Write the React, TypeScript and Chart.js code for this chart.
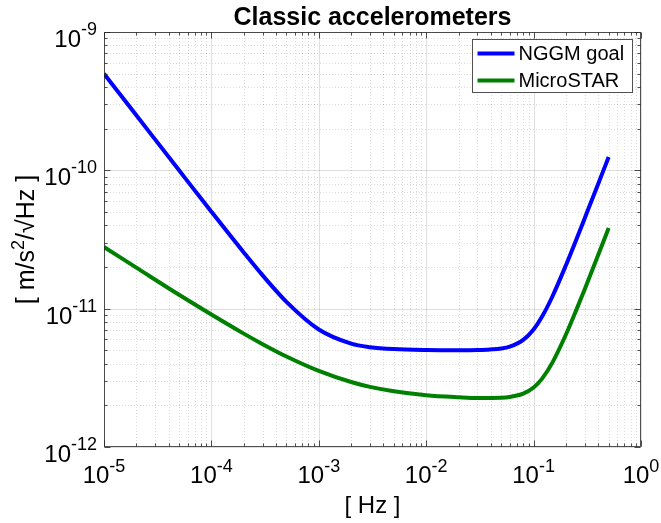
import React, { useEffect, useRef } from 'react';
import { Chart, registerables } from 'chart.js';

Chart.register(...registerables);

// ---- data ----
const frequencies = [
  1e-5, 2e-5, 5e-5, 1e-4, 2e-4, 3e-4, 5e-4, 1e-3, 2e-3, 3e-3, 5e-3, 1e-2, 2e-2, 3e-2, 5e-2,
  0.06, 0.08, 0.1, 0.12, 0.15, 0.2, 0.25, 0.3, 0.4, 0.5,
];
const nggmGoal = [
  5.0e-10, 2.5e-10, 1.0e-10, 5.02e-11, 2.55e-11, 1.74e-11, 1.12e-11, 7.07e-12, 5.59e-12, 5.27e-12,
  5.1e-12, 5.02e-12, 5.0e-12, 5.02e-12, 5.15e-12, 5.31e-12, 5.94e-12, 7.07e-12, 8.77e-12, 1.23e-11,
  2.06e-11, 3.16e-11, 4.53e-11, 8.0e-11, 1.25e-10,
];
const microStar = [
  2.79e-11, 1.98e-11, 1.26e-11, 9.07e-12, 6.6e-12, 5.54e-12, 4.51e-12, 3.55e-12, 2.95e-12, 2.72e-12,
  2.53e-12, 2.37e-12, 2.29e-12, 2.26e-12, 2.27e-12, 2.3e-12, 2.43e-12, 2.69e-12, 3.12e-12, 4.09e-12,
  6.5e-12, 9.8e-12, 1.39e-11, 2.45e-11, 3.83e-11,
];
const seriesNames = ['NGGM goal', 'MicroSTAR'];
const seriesColors = ['#0000ff', '#008000'];
const xTickExponents = [-5, -4, -3, -2, -1, 0];
const yTickExponents = [-12, -11, -10, -9];
const titleText = 'Classic accelerometers';
const xLabelText = '[ Hz ]';

const FONT = '"Liberation Sans", Arial, Helvetica, sans-serif';
const TEXT_COLOR = '#000000';
const AXIS_COLOR = 'rgba(38,38,38,0.8)';

function drawPower(
  ctx: CanvasRenderingContext2D,
  exp: number,
  anchorX: number,
  baseline: number,
  align: 'center' | 'right',
  raise: number
) {
  const baseFont = `24px ${FONT}`;
  const supFont = `18px ${FONT}`;
  ctx.font = baseFont;
  const w10 = ctx.measureText('10').width;
  ctx.font = supFont;
  const supText = String(exp);
  const wSup = ctx.measureText(supText).width;
  const total = w10 + wSup;
  const start = align === 'center' ? anchorX - total / 2 : anchorX - total;
  ctx.textAlign = 'left';
  ctx.textBaseline = 'alphabetic';
  ctx.fillStyle = TEXT_COLOR;
  ctx.font = baseFont;
  ctx.fillText('10', start, baseline);
  ctx.font = supFont;
  ctx.fillText(supText, start + w10, baseline - raise);
}

const matlabPlugin = {
  id: 'matlabLook',
  beforeDatasetsDraw(chart: any) {
    const { ctx, chartArea: a, scales } = chart;
    const x = scales.x;
    const y = scales.y;
    ctx.save();
    ctx.fillStyle = '#ffffff';
    ctx.fillRect(a.left, a.top, a.right - a.left, a.bottom - a.top);
    // minor grid (dotted)
    ctx.lineWidth = 1;
    ctx.strokeStyle = 'rgba(38,38,38,0.16)';
    ctx.setLineDash([1, 2]);
    for (let e = xTickExponents[0]; e < xTickExponents[xTickExponents.length - 1]; e++) {
      for (let k = 2; k <= 9; k++) {
        const px = Math.round(x.getPixelForValue(k * Math.pow(10, e))) + 0.5;
        ctx.beginPath();
        ctx.moveTo(px, a.top);
        ctx.lineTo(px, a.bottom);
        ctx.stroke();
      }
    }
    for (let e = yTickExponents[0]; e < yTickExponents[yTickExponents.length - 1]; e++) {
      for (let k = 2; k <= 9; k++) {
        const py = Math.round(y.getPixelForValue(k * Math.pow(10, e))) + 0.5;
        ctx.beginPath();
        ctx.moveTo(a.left, py);
        ctx.lineTo(a.right, py);
        ctx.stroke();
      }
    }
    // major grid (solid)
    ctx.setLineDash([]);
    ctx.strokeStyle = 'rgba(38,38,38,0.15)';
    xTickExponents.forEach((e) => {
      const px = Math.round(x.getPixelForValue(Math.pow(10, e))) + 0.5;
      ctx.beginPath();
      ctx.moveTo(px, a.top);
      ctx.lineTo(px, a.bottom);
      ctx.stroke();
    });
    yTickExponents.forEach((e) => {
      const py = Math.round(y.getPixelForValue(Math.pow(10, e))) + 0.5;
      ctx.beginPath();
      ctx.moveTo(a.left, py);
      ctx.lineTo(a.right, py);
      ctx.stroke();
    });
    ctx.restore();
  },
  afterDatasetsDraw(chart: any) {
    const { ctx, chartArea: a, scales } = chart;
    const x = scales.x;
    const y = scales.y;
    ctx.save();
    ctx.strokeStyle = AXIS_COLOR;
    ctx.lineWidth = 1;
    const L = Math.round(a.left) + 0.5;
    const R = Math.round(a.right) - 0.5;
    const T = Math.round(a.top) + 0.5;
    const B = Math.round(a.bottom) - 0.5;
    const tickX = (v: number, len: number) => {
      const px = Math.round(x.getPixelForValue(v)) + 0.5;
      ctx.beginPath();
      ctx.moveTo(px, B);
      ctx.lineTo(px, B - len);
      ctx.moveTo(px, T);
      ctx.lineTo(px, T + len);
      ctx.stroke();
    };
    const tickY = (v: number, len: number) => {
      const py = Math.round(y.getPixelForValue(v)) + 0.5;
      ctx.beginPath();
      ctx.moveTo(L, py);
      ctx.lineTo(L + len, py);
      ctx.moveTo(R, py);
      ctx.lineTo(R - len, py);
      ctx.stroke();
    };
    for (let e = xTickExponents[0]; e < xTickExponents[xTickExponents.length - 1]; e++) {
      for (let k = 2; k <= 9; k++) tickX(k * Math.pow(10, e), 3);
    }
    xTickExponents.forEach((e) => tickX(Math.pow(10, e), 6));
    for (let e = yTickExponents[0]; e < yTickExponents[yTickExponents.length - 1]; e++) {
      for (let k = 2; k <= 9; k++) tickY(k * Math.pow(10, e), 3);
    }
    yTickExponents.forEach((e) => tickY(Math.pow(10, e), 6));
    ctx.strokeRect(L, T, R - L, B - T);
    ctx.restore();
  },
  afterDraw(chart: any) {
    const { ctx, chartArea: a, scales } = chart;
    const x = scales.x;
    const y = scales.y;
    ctx.save();
    // tick labels
    xTickExponents.forEach((e) => {
      drawPower(ctx, e, x.getPixelForValue(Math.pow(10, e)), a.bottom + 36, 'center', 11);
    });
    yTickExponents.forEach((e) => {
      drawPower(ctx, e, a.left - 7, y.getPixelForValue(Math.pow(10, e)) + 15, 'right', 12);
    });
    // title
    ctx.fillStyle = TEXT_COLOR;
    ctx.textAlign = 'center';
    ctx.textBaseline = 'alphabetic';
    ctx.font = `bold 25px ${FONT}`;
    ctx.fillText(titleText, (a.left + a.right) / 2, 25);
    // x label
    ctx.font = `24px ${FONT}`;
    ctx.fillText(xLabelText, (a.left + a.right) / 2, 513);
    // y label (rotated, built from pieces so the exponent is raised)
    ctx.save();
    ctx.translate(34, (a.top + a.bottom) / 2);
    ctx.rotate(-Math.PI / 2);
    const parts: [string, string, number][] = [
      ['[ m/s', `25px ${FONT}`, 0],
      ['2', `18px ${FONT}`, -10],
      ['/\u221AHz ]', `25px ${FONT}`, 0],
    ];
    let total = 0;
    parts.forEach(([t, f]) => {
      ctx.font = f;
      total += ctx.measureText(t).width;
    });
    let cx = -total / 2;
    ctx.textAlign = 'left';
    parts.forEach(([t, f, dy]) => {
      ctx.font = f;
      ctx.fillText(t, cx, dy);
      cx += ctx.measureText(t).width;
    });
    ctx.restore();
    // legend
    const boxW = 160;
    const boxH = 53;
    const bx = Math.round(a.right - 9 - boxW) + 0.5;
    const by = Math.round(a.top + 7) + 0.5;
    ctx.fillStyle = '#ffffff';
    ctx.fillRect(bx, by, boxW, boxH);
    ctx.strokeStyle = AXIS_COLOR;
    ctx.lineWidth = 1;
    ctx.strokeRect(bx, by, boxW, boxH);
    chart.data.datasets.forEach((ds: any, i: number) => {
      const rowY = by + 14 + i * 27;
      ctx.strokeStyle = ds.borderColor;
      ctx.lineWidth = 4;
      ctx.beginPath();
      ctx.moveTo(bx + 5, rowY);
      ctx.lineTo(bx + 42, rowY);
      ctx.stroke();
      ctx.fillStyle = TEXT_COLOR;
      ctx.font = `20px ${FONT}`;
      ctx.textAlign = 'left';
      ctx.textBaseline = 'middle';
      ctx.fillText(ds.label, bx + 46, rowY + 1);
    });
    ctx.restore();
  },
};

export default function App() {
  const canvasRef = useRef<HTMLCanvasElement | null>(null);

  useEffect(() => {
    document.body.style.margin = '0';
    const canvas = canvasRef.current;
    if (!canvas) return;
    const series = [nggmGoal, microStar];
    const chart = new Chart(canvas, {
      type: 'line',
      data: {
        datasets: series.map((vals, i) => ({
          label: seriesNames[i],
          data: frequencies.map((f, j) => ({ x: f, y: vals[j] })),
          borderColor: seriesColors[i],
          backgroundColor: seriesColors[i],
          borderWidth: 4,
          pointRadius: 0,
          fill: false,
          cubicInterpolationMode: 'monotone' as const,
        })),
      },
      options: {
        responsive: false,
        animation: false,
        devicePixelRatio: 1,
        layout: { padding: { left: 104, right: 20, top: 32, bottom: 76 } },
        plugins: {
          legend: { display: false },
          title: { display: false },
          tooltip: { enabled: false },
        },
        scales: {
          x: { type: 'logarithmic', min: 1e-5, max: 1, display: false },
          y: { type: 'logarithmic', min: 1e-12, max: 1e-9, display: false },
        },
      },
      plugins: [matlabPlugin],
    });
    return () => chart.destroy();
  }, []);

  return (
    <div style={{ width: 661, height: 523, background: '#ffffff' }}>
      <canvas ref={canvasRef} width={661} height={523} />
    </div>
  );
}
